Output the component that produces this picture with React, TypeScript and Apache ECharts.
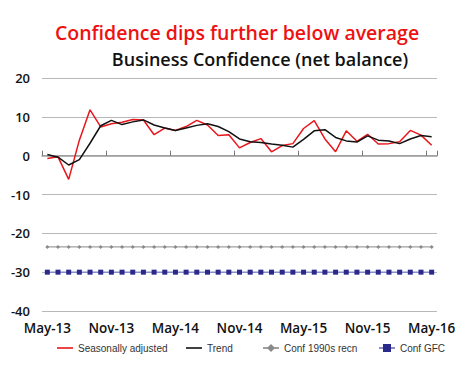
import React, { useEffect, useRef } from "react";
import * as echarts from "echarts";

const months: string[] = [
  "May-13", "Jun-13", "Jul-13", "Aug-13", "Sep-13", "Oct-13", "Nov-13", "Dec-13",
  "Jan-14", "Feb-14", "Mar-14", "Apr-14", "May-14", "Jun-14", "Jul-14", "Aug-14",
  "Sep-14", "Oct-14", "Nov-14", "Dec-14", "Jan-15", "Feb-15", "Mar-15", "Apr-15",
  "May-15", "Jun-15", "Jul-15", "Aug-15", "Sep-15", "Oct-15", "Nov-15", "Dec-15",
  "Jan-16", "Feb-16", "Mar-16", "Apr-16", "May-16",
];

const seasonallyAdjusted: number[] = [
  -0.7, -0.3, -6.1, 4.0, 11.8, 7.4, 8.2, 8.6, 9.3, 9.2, 5.4, 7.1, 6.5, 7.5, 9.1, 7.9,
  5.2, 5.4, 2.0, 3.4, 4.4, 1.0, 2.6, 3.1, 7.0, 9.0, 4.3, 1.0, 6.4, 3.7, 5.5, 3.0,
  3.1, 3.6, 6.5, 5.3, 2.7,
];

const trend: number[] = [
  0.3, -0.4, -2.4, -1.0, 3.2, 7.7, 9.1, 8.0, 8.7, 9.2, 7.9, 7.1, 6.5, 7.1, 7.8, 8.2,
  7.5, 6.2, 4.3, 3.6, 3.4, 3.0, 2.7, 2.2, 4.2, 6.4, 6.7, 4.7, 3.8, 3.5, 5.1, 4.0,
  3.8, 3.1, 4.3, 5.2, 4.9,
];

const conf1990sLevel = -23.5;
const confGfcLevel = -30;
const conf1990s: number[] = months.map(() => conf1990sLevel);
const confGfc: number[] = months.map(() => confGfcLevel);

const seriesNames: string[] = ["Seasonally adjusted", "Trend", "Conf 1990s recn", "Conf GFC"];
const yTicks = { min: -40, max: 20, interval: 10 };

const lineIcon = "path://M0,0 M16,10 M0,4.2 L16,4.2 L16,5.8 L0,5.8 Z";

export default function App() {
  const ref = useRef<HTMLDivElement>(null);
  useEffect(() => {
    if (!ref.current) return;
    const chart = echarts.init(ref.current, null, { renderer: "svg" });
    const axisFont = "'Open Sans', sans-serif";
    const legendLefts = [52, 181, 257, 373];
    const legendText = {
      color: "#333",
      fontSize: 10,
      fontFamily: "'Liberation Sans Narrow', 'Liberation Sans', Arial, sans-serif",
    };
    chart.setOption({
      animation: false,
      backgroundColor: "#ffffff",
      title: [
        {
          text: "Confidence dips further below average",
          left: 232,
          top: 17,
          textAlign: "center",
          textStyle: { color: "#ee1111", fontSize: 19.5, fontWeight: 600, fontFamily: axisFont },
        },
        {
          text: "Business Confidence (net balance)",
          left: 255,
          top: 45,
          textAlign: "center",
          textStyle: { color: "#111111", fontSize: 18, fontWeight: 600, fontFamily: axisFont },
        },
      ],
      grid: { left: 42, right: 31, top: 78, bottom: 55, containLabel: false },
      legend: seriesNames.map((name, i) => ({
        top: 338,
        left: legendLefts[i],
        itemGap: 0,
        itemWidth: 16,
        itemHeight: 10,
        textStyle: legendText,
        data: i < 2 ? [{ name, icon: lineIcon }] : [name],
      })),
      xAxis: [
        {
          type: "category",
          data: months,
          boundaryGap: true,
          axisLine: { onZero: true, lineStyle: { color: "#999", width: 1.5 } },
          axisTick: { show: true, inside: true, length: 5, interval: 5, lineStyle: { color: "#777" } },
          axisLabel: { show: false },
          splitLine: { show: false },
        },
        {
          type: "category",
          data: months,
          boundaryGap: true,
          position: "bottom",
          axisLine: { show: false, onZero: false },
          axisTick: { show: false },
          axisLabel: {
            show: true,
            interval: 5,
            margin: 10,
            color: "#111",
            fontSize: 13.5,
            fontWeight: 600,
            fontFamily: axisFont,
          },
          splitLine: { show: false },
        },
      ],
      yAxis: {
        type: "value",
        min: yTicks.min,
        max: yTicks.max,
        interval: yTicks.interval,
        axisLine: { show: false },
        axisTick: { show: false },
        axisLabel: { color: "#111", fontSize: 13, fontWeight: 600, fontFamily: axisFont, margin: 12 },
        splitLine: { lineStyle: { color: "#b8b8b8", width: 1.2 } },
      },
      series: [
        {
          name: seriesNames[0],
          type: "line",
          data: seasonallyAdjusted,
          symbol: "none",
          lineStyle: { color: "#e8151b", width: 1.5 },
          itemStyle: { color: "#e8151b" },
          z: 4,
        },
        {
          name: seriesNames[1],
          type: "line",
          data: trend,
          symbol: "none",
          lineStyle: { color: "#111", width: 1.5 },
          itemStyle: { color: "#111" },
          z: 5,
        },
        {
          name: seriesNames[2],
          type: "line",
          data: conf1990s,
          symbol: "diamond",
          symbolSize: 4,
          lineStyle: { color: "#a0a0a0", width: 1.2 },
          itemStyle: { color: "#8a8a8a" },
          z: 3,
        },
        {
          name: seriesNames[3],
          type: "line",
          data: confGfc,
          symbol: "rect",
          symbolSize: 5,
          lineStyle: { color: "#8c8cc8", width: 1.5 },
          itemStyle: { color: "#2a2a8a" },
          z: 3,
        },
      ],
    });
    return () => chart.dispose();
  }, []);
  return <div ref={ref} style={{ width: 468, height: 366, margin: -8 }} />;
}
